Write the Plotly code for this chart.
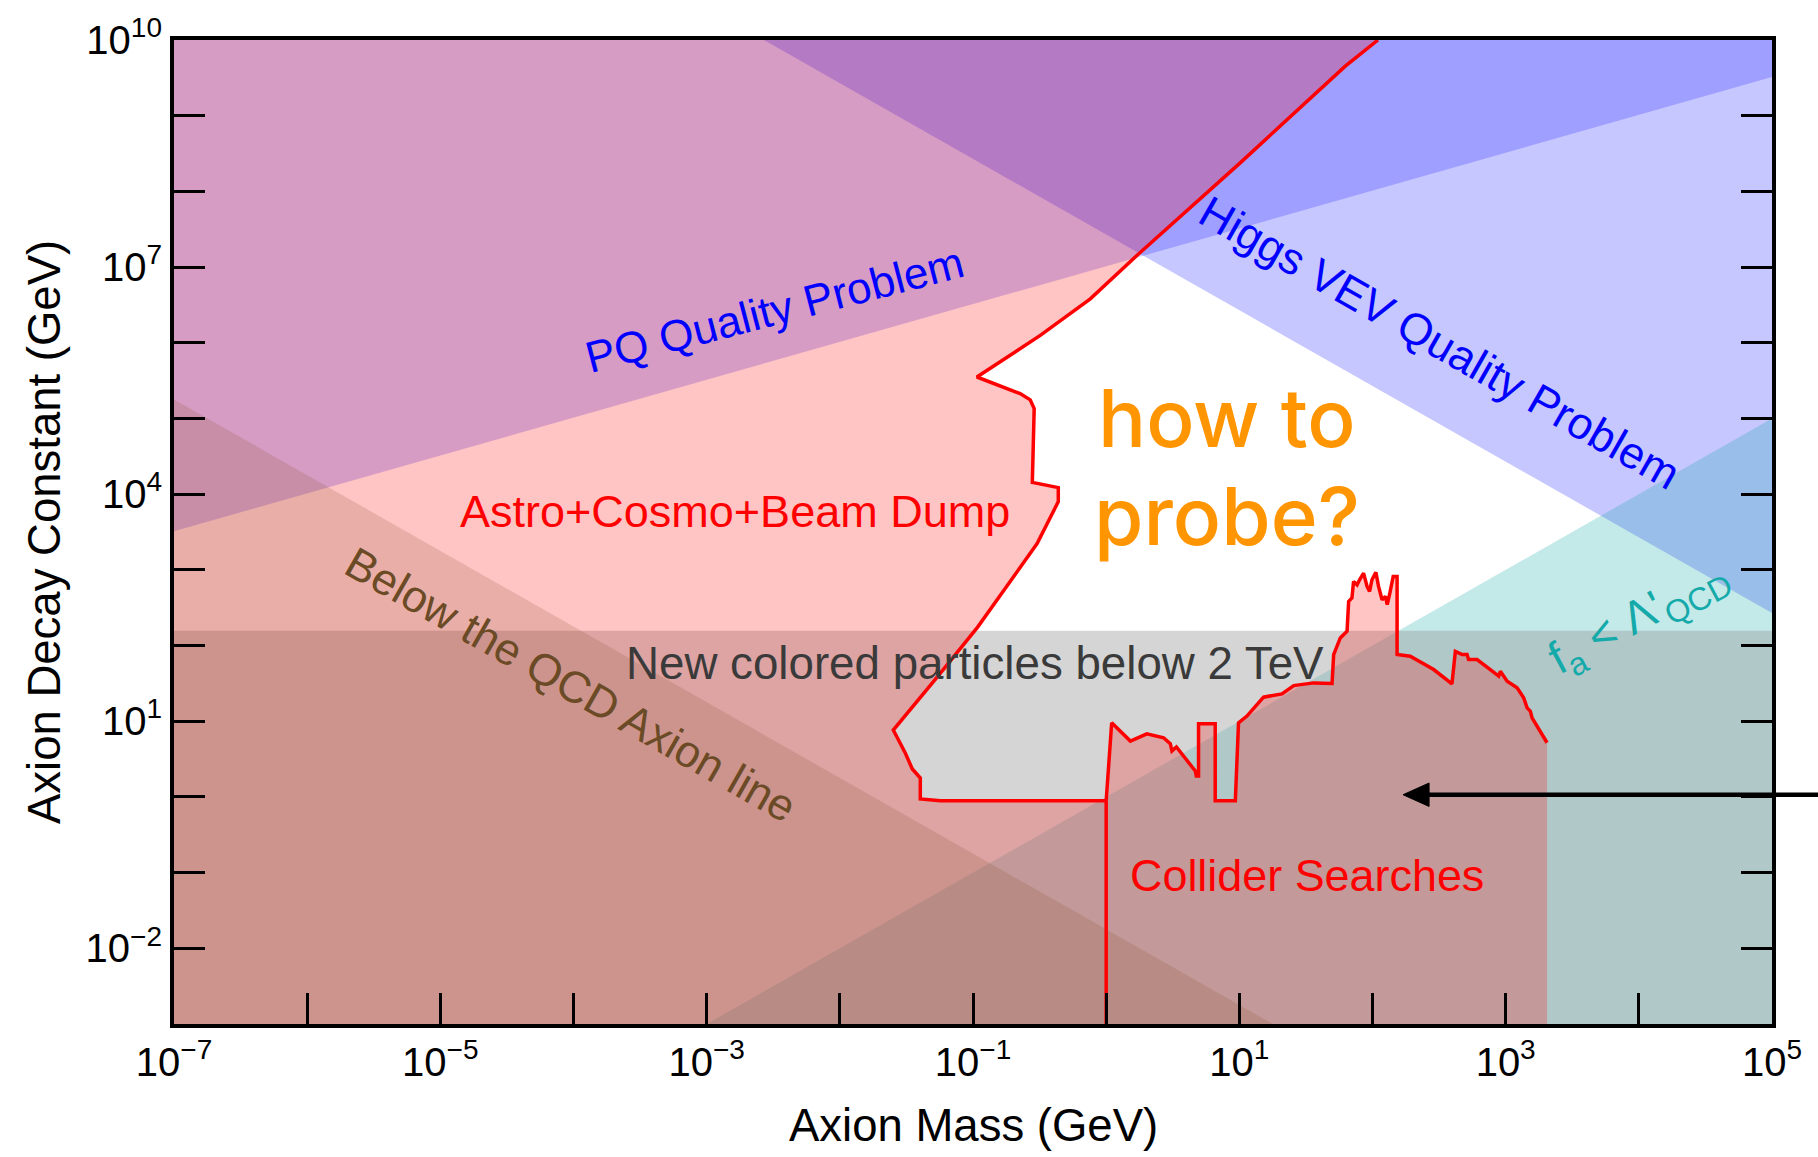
import plotly.graph_objects as go

# ---- region boundaries: axion mass m_a (GeV) vs decay constant f_a (GeV) ----
# PQ quality problem (excluded above the line)
pq_mass = [1e-7, 1e5, 1e5, 1e-7]
pq_fa = [3.24e3, 3.24e9, 1e10, 1e10]

# Higgs VEV quality problem (excluded above the line)
higgs_mass = [2.69e-3, 1e5, 1e5]
higgs_fa = [1e10, 2.69e2, 1e10]

# f_a < Lambda'_QCD (below the diagonal)
lqcd_mass = [1e-3, 1e5, 1e5]
lqcd_fa = [1e-3, 1e5, 1e-3]

# new coloured particles below 2 TeV (horizontal band)
colored_mass = [1e-7, 1e5, 1e5, 1e-7]
colored_fa = [1e-3, 1e-3, 157, 157]

# below the QCD axion line
qcd_mass = [1e-7, 17.8, 1e-7]
qcd_fa = [1.78e5, 1e-3, 1e-3]

# astro + cosmo + beam dump exclusion edge (from the top of the frame down to 1 GeV)
astro_mass = [110, 62.5, 10.2, 1.75, 0.760, 0.320, 0.107, 0.226, 0.269, 0.288,
              0.279, 0.437, 0.437, 0.303, 0.181, 0.108, 0.0538, 0.0252, 0.0310,
              0.0350, 0.0402, 0.0402, 0.0568, 1.0]
astro_fa = [1e10, 4.52e9, 2.40e8, 1.49e7, 3.80e6, 1.25e6, 3.53e5, 2.13e5, 1.76e5,
            1.35e5, 1.43e4, 1.22e4, 7.96e3, 2.22e3, 622, 174, 38.2, 7.64, 3.80,
            2.34, 1.78, 0.942, 0.887, 0.89]

# collider search limits
collider_mass = [1.0, 1.0, 1.10, 1.52, 2.02, 2.70, 3.03, 3.12, 3.37, 4.05, 4.67,
                 4.75, 4.94, 4.94, 6.59, 6.59, 9.33, 9.86, 11.4, 15.2, 20.9, 25.6,
                 36.1, 49.7, 51.1, 57.3, 64.4, 66.2, 70.1, 72.1, 76.6, 80.0, 85.7,
                 91.0, 95.1, 99.1, 106, 111, 118, 125, 129, 135, 140, 143, 153,
                 153, 192, 288, 395, 419, 471, 513, 527, 610, 767, 887, 912, 1026,
                 1219, 1365, 1449, 1531, 1578, 2046]
collider_fa = [1e-3, 0.89, 9.53, 5.47, 6.82, 6.05, 5.05, 4.05, 4.56, 2.99, 2.20,
               1.89, 1.89, 9.25, 9.25, 0.887, 0.887, 9.53, 11.7, 20.8, 23.0, 29.6,
               32.1, 31.6, 76.0, 126, 154, 383, 424, 703, 635, 740, 904, 604, 519,
               740, 931, 604, 403, 446, 347, 492, 635, 817, 817, 76.0, 72.1, 48.2,
               31.1, 83.9, 76.0, 76.0, 65.3, 65.3, 48.2, 39.4, 45.8, 33.8, 27.6,
               20.4, 15.0, 13.6, 11.1, 5.20]

# axis ticks: labelled decades and the unlabelled ones in between
x_labelled = [-7, -5, -3, -1, 1, 3, 5]
x_unlabelled = [-6, -4, -2, 0, 2, 4]
y_labelled = [-2, 1, 4, 7, 10]
y_unlabelled = [-1, 0, 2, 3, 5, 6, 8, 9]

FONT = "Liberation Sans, Arial, Helvetica, sans-serif"
RED = "rgb(255,0,0)"


def pow10_label(e):
    s = str(e).replace("-", "\u2212")
    return f"10<sup>{s}</sup>"


def region(xs, ys, color):
    return go.Scatter(x=xs, y=ys, mode="none", fill="toself", fillcolor=color,
                      hoverinfo="skip", showlegend=False)


fig = go.Figure()

fig.add_trace(region(pq_mass, pq_fa, "rgba(0,0,255,0.20)"))
fig.add_trace(region(higgs_mass, higgs_fa, "rgba(0,0,255,0.22)"))
fig.add_trace(region(lqcd_mass, lqcd_fa, "rgba(0,158,158,0.23)"))
fig.add_trace(region(colored_mass, colored_fa, "rgba(150,150,150,0.40)"))

astro_poly_x = [1e-7, 1e-7] + astro_mass + [1.0]
astro_poly_y = [1e-3, 1e10] + astro_fa + [1e-3]
fig.add_trace(region(astro_poly_x, astro_poly_y, "rgba(255,0,0,0.23)"))

collider_poly_x = collider_mass + [collider_mass[-1]]
collider_poly_y = collider_fa + [1e-3]
fig.add_trace(region(collider_poly_x, collider_poly_y, "rgba(255,0,0,0.23)"))

fig.add_trace(region(qcd_mass, qcd_fa, "rgba(140,92,55,0.20)"))

# exclusion edges
for xs, ys in ((astro_mass, astro_fa), (collider_mass, collider_fa)):
    fig.add_trace(go.Scatter(x=xs, y=ys, mode="lines",
                             line=dict(color=RED, width=3.5), hoverinfo="skip",
                             showlegend=False))

annotations = []


def label(text, x, y, color, size=44, angle=0, family=FONT, weight=None):
    f = dict(family=family, size=size, color=color)
    if weight is not None:
        f["weight"] = weight
    annotations.append(dict(text=text, x=x, y=y, xref="x", yref="y",
                            showarrow=False, textangle=angle, font=f,
                            xanchor="center", yanchor="middle"))


label("PQ Quality Problem", -2.489, 6.444, "rgb(0,0,255)", angle=-14.5)
label("Higgs VEV Quality Problem", 2.505, 6.009, "rgb(0,0,255)", angle=29.7,
      size=44.5)
label("Astro+Cosmo+Beam Dump", -2.79, 3.77, RED, size=45)
label("Below the QCD Axion line", -4.02, 1.48, "#6b4a26", angle=29.6, size=44.5)
label("New colored particles below 2 TeV", -0.987, 1.766, "#3a3a3a", size=45.7)
label("Collider Searches", 1.511, -1.041, RED, size=44.9)
label("f<sub>a</sub> &lt; \u039b'<sub>QCD</sub>", 4.0, 2.36, "rgb(20,170,170)",
      size=46, angle=-28)
label("how to", 0.907, 5.008, "rgb(255,149,0)", size=80, weight=500,
      family="Inter, Liberation Sans, sans-serif")
label("probe?", 0.907, 3.712, "rgb(255,149,0)", size=80, weight=500,
      family="Inter, Liberation Sans, sans-serif")

# axis titles
annotations.append(dict(text="Axion Mass (GeV)", x=0.5, y=0, xref="paper",
                        yref="paper", yshift=-101, showarrow=False,
                        xanchor="center", yanchor="middle",
                        font=dict(family=FONT, size=45.5, color="black")))
annotations.append(dict(text="Axion Decay Constant (GeV)", x=0, y=0.5,
                        xref="paper", yref="paper", xshift=-130, textangle=-90,
                        showarrow=False, xanchor="center", yanchor="middle",
                        font=dict(family=FONT, size=45.5, color="black")))

# arrow coming in from the right margin (paper coordinates)
shapes = [
    dict(type="line", xref="paper", yref="paper", x0=0.780, x1=1.03,
         y0=0.2330, y1=0.2330, line=dict(color="black", width=4.5)),
    dict(type="path", xref="paper", yref="paper",
         path="M 0.7691,0.2330 L 0.7854,0.2449 L 0.7854,0.2211 Z",
         fillcolor="black", line=dict(color="black", width=1)),
]

tick_style = dict(ticks="inside", ticklen=31, tickwidth=3, tickcolor="black")
axis_common = dict(type="log", showgrid=False, zeroline=False, showline=True,
                   linewidth=4, linecolor="black",
                   tickfont=dict(family=FONT, size=40, color="black"),
                   **tick_style)

fig.update_layout(
    width=1818, height=1157,
    margin=dict(l=174, r=46, t=37, b=133),
    paper_bgcolor="white", plot_bgcolor="white",
    showlegend=False,
    annotations=annotations,
    shapes=shapes,
    xaxis=dict(range=[-7, 5], tickmode="array",
               tickvals=[10.0 ** e for e in x_labelled],
               ticktext=[pow10_label(e) for e in x_labelled],
               minor=dict(tickmode="array",
                          tickvals=[10.0 ** e for e in x_unlabelled],
                          showgrid=False, **tick_style),
               mirror=True, **axis_common),
    yaxis=dict(range=[-3, 10], tickmode="array",
               tickvals=[10.0 ** e for e in y_labelled],
               ticktext=[pow10_label(e) for e in y_labelled],
               minor=dict(tickmode="array",
                          tickvals=[10.0 ** e for e in y_unlabelled],
                          showgrid=False, **tick_style),
               mirror="ticks", **axis_common),
)

fig.write_html("out.html")
